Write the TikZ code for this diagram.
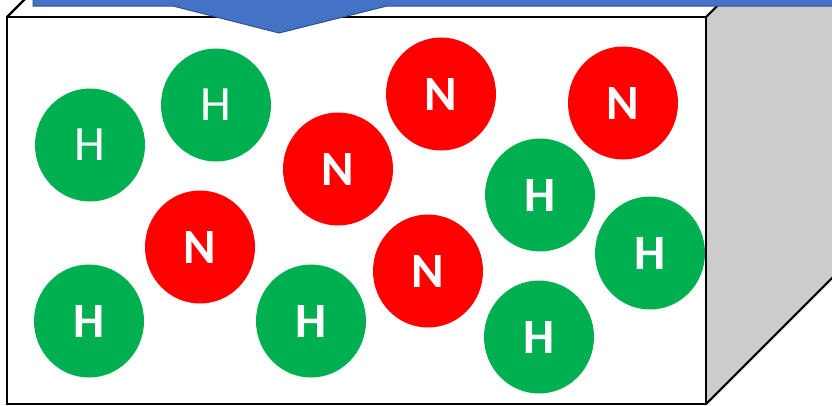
\documentclass[tikz,border=0pt]{standalone}
\usepackage{fontspec}
\setmainfont{Carlito}
\usepackage{tikz}
\usetikzlibrary{shapes.geometric, positioning}
\definecolor{atomgreen}{RGB}{0, 176, 80}
\definecolor{atomred}{RGB}{255, 0, 0}
\definecolor{sidegray}{RGB}{204, 204, 204}
\definecolor{pistonblue}{RGB}{68, 114, 196}
\definecolor{pistonedge}{RGB}{47, 82, 143}

\tikzset{
  atom/.style={ellipse, minimum width=110*0.75pt, minimum height=113*0.75pt,
               inner sep=0pt, text=white, font=\fontsize{37}{37}\selectfont\bfseries},
  atomH/.style={atom, fill=atomgreen},
  atomN/.style={atom, fill=atomred},
  thinlabel/.style={font=\fontsize{37}{37}\selectfont\mdseries}
}

\begin{document}
\begin{tikzpicture}[x=0.75pt, y=-0.75pt]
  \useasboundingbox (0,0) rectangle (832,405);
  \clip (0,0) rectangle (832,405);

  % 容器侧面与顶面
  \fill[sidegray] (706,17) -- (906,-183) -- (906,204) -- (706,404) -- cycle;
  \fill[white] (7,17) -- (207,-183) -- (906,-183) -- (706,17) -- cycle;
  \draw[line width=1.6pt] (7,17) -- (207,-183);
  \draw[line width=1.6pt] (706,17) -- (906,-183);
  \draw[line width=1.6pt] (706,404) -- (906,204);

  % 容器正面
  \draw[line width=1.6pt, fill=white] (7,17) rectangle (706,404);

  % 活塞（向下压）
  \draw[pistonedge, fill=pistonblue, line width=0.75pt]
    (33,-5) -- (33,6) -- (173,6) -- (279,33) -- (387,6) -- (840,6) -- (840,-5) -- cycle;

  % 氢原子 H
  \node[atomH, thinlabel] (h1) at (90,145) {H};
  \node[atomH, thinlabel] (h2) at (216,105) {H};
  \node[atomH] (h3) at (540,195) {H};
  \node[atomH] (h4) at (650,253) {H};
  \node[atomH] (h5) at (89,321) {H};
  \node[atomH] (h6) at (311,321) {H};
  \node[atomH] (h7) at (539,337) {H};

  % 氮原子 N
  \node[atomN] (n1) at (338,169) {N};
  \node[atomN] (n2) at (441,94) {N};
  \node[atomN] (n3) at (623,103) {N};
  \node[atomN] (n4) at (200,247) {N};
  \node[atomN] (n5) at (428,271) {N};
\end{tikzpicture}
\end{document}
